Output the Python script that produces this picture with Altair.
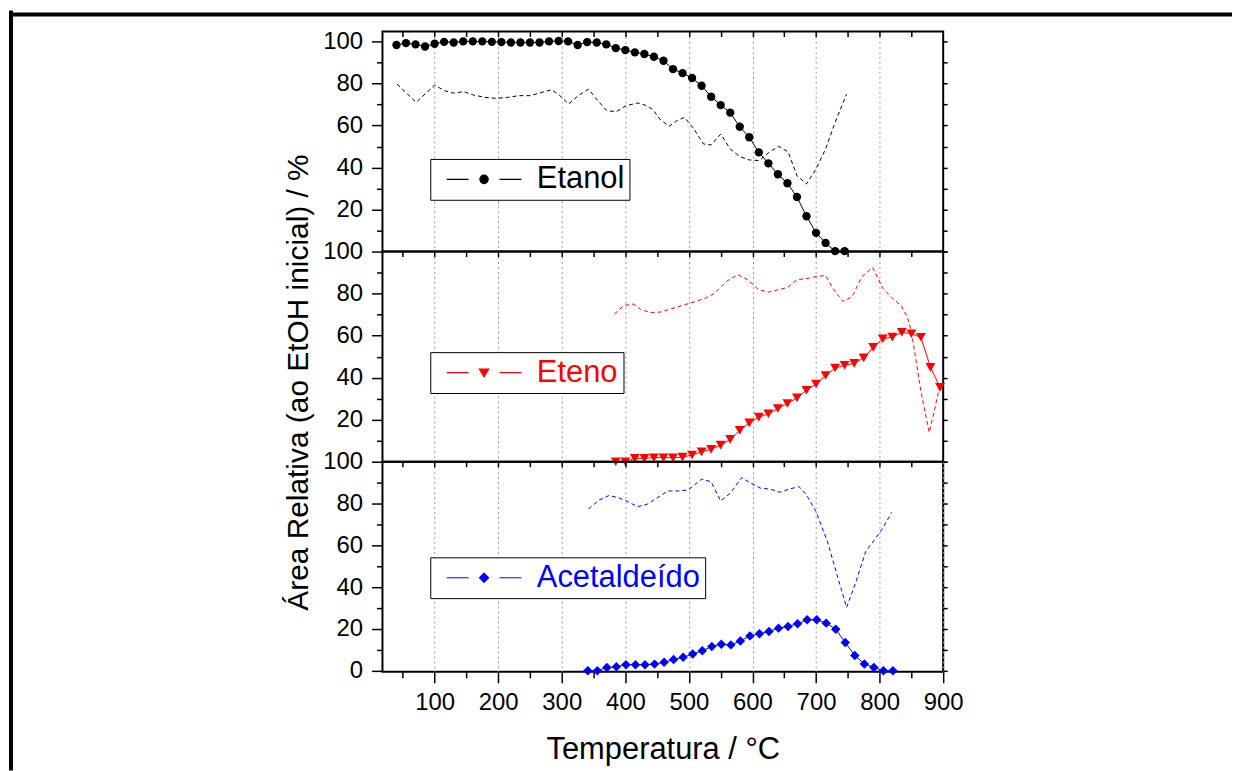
import altair as alt
import pandas as pd

FONT = "Liberation Sans"

# ---------------- data ----------------
etanol_T = [40, 55, 70, 85, 100, 115, 130, 145, 160, 175, 190, 205, 220, 235, 250, 265,
            280, 295, 310, 325, 340, 355, 370, 385, 400, 415, 430, 445, 460, 475, 490, 505,
            520, 535, 550, 565, 580, 595, 610, 625, 640, 655, 670, 685, 700, 715, 730, 745]
etanol_pts = [98.3, 99.2, 98.6, 97.6, 98.9, 99.8, 99.5, 100, 100, 100, 99.8, 99.7, 99.5, 99.5,
              99.5, 99.5, 100, 100.2, 100, 98.3, 99.7, 99.5, 98.6, 96.8, 95.9, 94.8, 94.0, 92.7,
              90.8, 86.8, 84.9, 82.6, 78.9, 73.7, 69.7, 66.1, 59.4, 54.4, 47.2, 42.0, 36.8, 32.5,
              26.0, 16.8, 8.9, 4.1, 0.2, 0.2]
etanol_dash_T = [41, 71, 100, 116, 130, 146, 161, 179, 197, 215, 233, 251, 269, 284, 296, 311,
                 326, 342, 359, 371, 386, 401, 419, 431, 443, 454, 469, 481, 493, 508, 523, 535,
                 550, 565, 580, 595, 611, 626, 641, 656, 670, 685, 700, 715, 730, 748]
etanol_dash = [79.7, 71.0, 79.2, 76.5, 75.4, 76.1, 74.5, 73.4, 72.9, 73.4, 74.2, 74.2, 75.8, 77.0,
               74.5, 70.2, 74.2, 77.3, 71.0, 67.0, 66.6, 69.4, 70.7, 69.7, 67.7, 63.1, 59.6, 62.3,
               63.9, 58.3, 51.2, 50.7, 55.9, 48.8, 45.2, 43.6, 43.3, 47.2, 50.1, 47.5, 36.1, 32.2,
               39.3, 48.8, 61.5, 74.9]

eteno_T = [385, 400, 415, 430, 445, 460, 475, 490, 505, 520, 535, 550, 565, 580, 595, 610, 625,
           640, 655, 670, 685, 700, 715, 730, 745, 760, 775, 790, 805, 820, 835, 850, 865, 880, 895]
eteno_pts = [0, 0, 1.6, 1.6, 1.9, 1.9, 1.9, 2.2, 3.2, 4.7, 5.9, 7.9, 10.6, 14.9, 18.5, 21.2, 22.8,
             25.3, 27.7, 30.4, 34.0, 37.0, 41.0, 44.6, 45.9, 46.8, 49.4, 54.4, 58.5, 59.3, 61.6,
             60.9, 59.2, 44.9, 35.4]
eteno_dash_T = [383, 398, 413, 425, 440, 455, 473, 490, 508, 526, 541, 559, 577, 592, 610, 625,
                640, 655, 670, 688, 700, 715, 727, 742, 757, 772, 789, 805, 820, 835, 844, 850,
                865, 878, 886, 895]
eteno_dash = [70.3, 74.4, 75.0, 72.3, 71.0, 71.2, 72.8, 74.4, 76.0, 77.8, 80.2, 85.8, 89.0, 86.7,
              81.8, 80.7, 81.8, 82.9, 86.6, 87.3, 88.1, 88.6, 82.3, 76.3, 78.6, 88.1, 92.4, 82.6,
              77.8, 73.9, 68.4, 62.0, 33.5, 13.9, 24.1, 36.7]

acet_T = [341, 356, 371, 386, 401, 416, 431, 446, 461, 476, 491, 506, 521, 536, 551, 566, 581,
          596, 611, 626, 641, 656, 671, 686, 701, 716, 731, 746, 761, 776, 791, 806, 821]
acet_pts = [0, 0, 1.6, 1.9, 2.9, 2.9, 2.9, 3.2, 4.1, 5.4, 6.5, 8.0, 9.6, 11.6, 12.7, 12.4, 14.3,
            16.7, 17.7, 18.8, 20.4, 21.2, 22.5, 24.4, 24.4, 22.8, 19.9, 13.5, 7.3, 3.3, 1.6, 0, 0]
acet_dash_T = [342, 359, 374, 389, 404, 419, 434, 449, 467, 484, 499, 520, 535, 550, 565, 583,
               598, 613, 628, 643, 658, 673, 685, 700, 718, 733, 748, 763, 778, 793, 805, 819]
acet_dash = [77.4, 81.7, 83.8, 82.8, 80.9, 78.5, 79.6, 82.5, 86.0, 86.0, 86.5, 91.7, 90.4, 81.2,
             84.9, 92.4, 89.6, 87.3, 86.9, 85.4, 86.9, 88.1, 84.1, 76.1, 61.8, 45.9, 30.3, 42.7,
             57.0, 63.1, 68.2, 75.8]

x_labels = [100, 200, 300, 400, 500, 600, 700, 800, 900]
x_grid = [100, 200, 300, 400, 500, 600, 700, 800]
x_minor = [50, 150, 250, 350, 450, 550, 650, 750, 850]
x_inner = [50, 100, 150, 200, 250, 300, 350, 400, 450, 500, 550, 600, 650, 700, 750, 800, 850]
y_major_full = [0, 20, 40, 60, 80, 100]
y_major_top = [20, 40, 60, 80, 100]
y_minor = [10, 30, 50, 70, 90]
y_right = [0, 10, 20, 30, 40, 50, 60, 70, 80, 90, 100]

X_DOMAIN = [18, 900]
PW = 563

# legend symbols: "— marker —" as custom paths (unit = 10 px for symbolSize 400)
LINE_PART = "M-0.4,0H1.8M4.9,0H7.1"
PATH_CIRCLE = LINE_PART + "M3.77,0A0.42,0.42,0,1,1,2.93,0A0.42,0.42,0,1,1,3.77,0Z"
PATH_TRI = LINE_PART + "M2.88,-0.36L3.82,-0.36L3.35,0.42Z"
PATH_DIAM = LINE_PART + "M3.35,-0.46L3.8,0L3.35,0.46L2.9,0Z"


def panel(name, color, shape, size, lpath, pT, pV, dT, dV, height, ydom, ylab,
          leg_y, bottom=False, ytitle=None, border=False):
    pts = pd.DataFrame({"T": pT, "v": pV, "serie": name})
    dash = pd.DataFrame({"T": dT, "v": dV, "serie": name})
    xs = alt.Scale(domain=X_DOMAIN, nice=False, zero=False)
    ys = alt.Scale(domain=ydom, nice=False, zero=False)

    if bottom:
        xa1 = alt.Axis(orient="bottom", values=x_labels, tickSize=11, labelFontSize=24,
                       labelPadding=8, labelFlush=False, labelOverlap=False, domain=False,
                       grid=True, gridDash=[2, 3], gridColor="#9a9a9a", gridWidth=1,
                       title="Temperatura / °C", titleFontSize=31, titleFontWeight="normal",
                       titleY=87, titleBaseline="alphabetic")
        xa2 = alt.Axis(orient="bottom", values=x_minor, tickSize=6, labels=False,
                       domain=False, grid=False, title=None)
    else:
        xa1 = alt.Axis(orient="bottom", values=x_grid, ticks=False, labels=False,
                       domain=False, grid=True, gridDash=[2, 3], gridColor="#9a9a9a",
                       gridWidth=1, title=None)
        xa2 = None
    xa3 = alt.Axis(orient="top", offset=-5, values=x_inner, tickSize=5, labels=False,
                   domain=False, grid=False, title=None)

    if ytitle:
        ya1 = alt.Axis(orient="left", values=ylab, tickSize=11, labelFontSize=24,
                       labelPadding=9, labelFlush=False, labelOverlap=False, domain=False,
                       grid=False, title=ytitle, titleFontSize=30, titleFontWeight="normal",
                       titleX=-84, titleY=131, titleAngle=-90, titleBaseline="middle",
                       titleAlign="center")
    else:
        ya1 = alt.Axis(orient="left", values=ylab, tickSize=11, labelFontSize=24,
                       labelPadding=9, labelFlush=False, labelOverlap=False, domain=False,
                       grid=False, title=None)
    ya2 = alt.Axis(orient="left", values=y_minor, tickSize=6, labels=False, domain=False,
                   grid=False, title=None)
    ya3 = alt.Axis(orient="right", values=y_right, tickSize=4, labels=False, domain=False,
                   grid=False, title=None)

    dashed = alt.Chart(dash).mark_line(color=color, strokeWidth=1, strokeDash=[4, 3]).encode(
        x=alt.X("T:Q", scale=xs, axis=xa1),
        y=alt.Y("v:Q", scale=ys, axis=ya1),
    )
    solid = alt.Chart(pts).mark_line(color=color, strokeWidth=1).encode(
        x=alt.X("T:Q", scale=xs, axis=xa2),
        y=alt.Y("v:Q", scale=ys, axis=ya2),
    )
    points = alt.Chart(pts).mark_point(shape=shape, filled=True, color=color, size=size,
                                       opacity=1).encode(
        x=alt.X("T:Q", scale=xs, axis=xa3),
        y=alt.Y("v:Q", scale=ys, axis=ya3),
    )
    leg = alt.Legend(title=None, orient="none", legendX=48, legendY=leg_y,
                     strokeColor="black", fillColor="white", padding=5, symbolSize=400,
                     symbolStrokeWidth=1.2, labelFontSize=31, labelColor=color,
                     labelFont=FONT, labelLimit=600, labelOffset=71,
                     labelExpr="datum.label + '\u00a0'")
    legend_layer = alt.Chart(dash).transform_filter("false").mark_point(
        filled=True, opacity=1).encode(
        fill=alt.Fill("serie:N", scale=alt.Scale(domain=[name], range=[color]), legend=leg),
        stroke=alt.Stroke("serie:N", scale=alt.Scale(domain=[name], range=[color]), legend=leg),
        shape=alt.Shape("serie:N", scale=alt.Scale(domain=[name], range=[lpath]), legend=leg),
    )
    layers = [dashed, solid, points, legend_layer]
    if border:
        one = pd.DataFrame({"a": [0]})
        top_line = alt.Chart(one).mark_rect(color="black").encode(
            x=alt.value(-375), x2=alt.value(853), y=alt.value(-19), y2=alt.value(-15))
        left_line = alt.Chart(one).mark_rect(color="black").encode(
            x=alt.value(-375), x2=alt.value(-371), y=alt.value(-21), y2=alt.value(742))
        layers += [top_line, left_line]
    return alt.layer(*layers).resolve_axis(x="independent", y="independent").properties(
        width=PW, height=height)


top = panel("Etanol", "#000000", "circle", 70, PATH_CIRCLE, etanol_T, etanol_pts,
            etanol_dash_T, etanol_dash, 221, [0, 104.74], y_major_top, 128, border=True)
mid = panel("Eteno", "#ff0000", "triangle-down", 100, PATH_TRI, eteno_T, eteno_pts,
            eteno_dash_T, eteno_dash, 211, [0, 100], y_major_top, 101,
            ytitle="Área Relativa (ao EtOH inicial) / %")
bot = panel("Acetaldeído", "#0000ff", "diamond", 90, PATH_DIAM, acet_T, acet_pts,
            acet_dash_T, acet_dash, 211, [-0.5, 100], y_major_full, 96, bottom=True)

chart = alt.vconcat(top, mid, bot, spacing=0, bounds="flush", padding=0).resolve_scale(
    fill="independent", stroke="independent", shape="independent"
).resolve_legend(
    fill="independent", stroke="independent", shape="independent"
).configure(
    font=FONT, background="white"
).configure_view(
    stroke="black", strokeWidth=2
).configure_axis(
    labelFont=FONT, titleFont=FONT, labelColor="black", titleColor="black",
    tickColor="black", tickWidth=1.5
)

chart.save("out.html", embed_options={"renderer": "svg", "actions": False})
